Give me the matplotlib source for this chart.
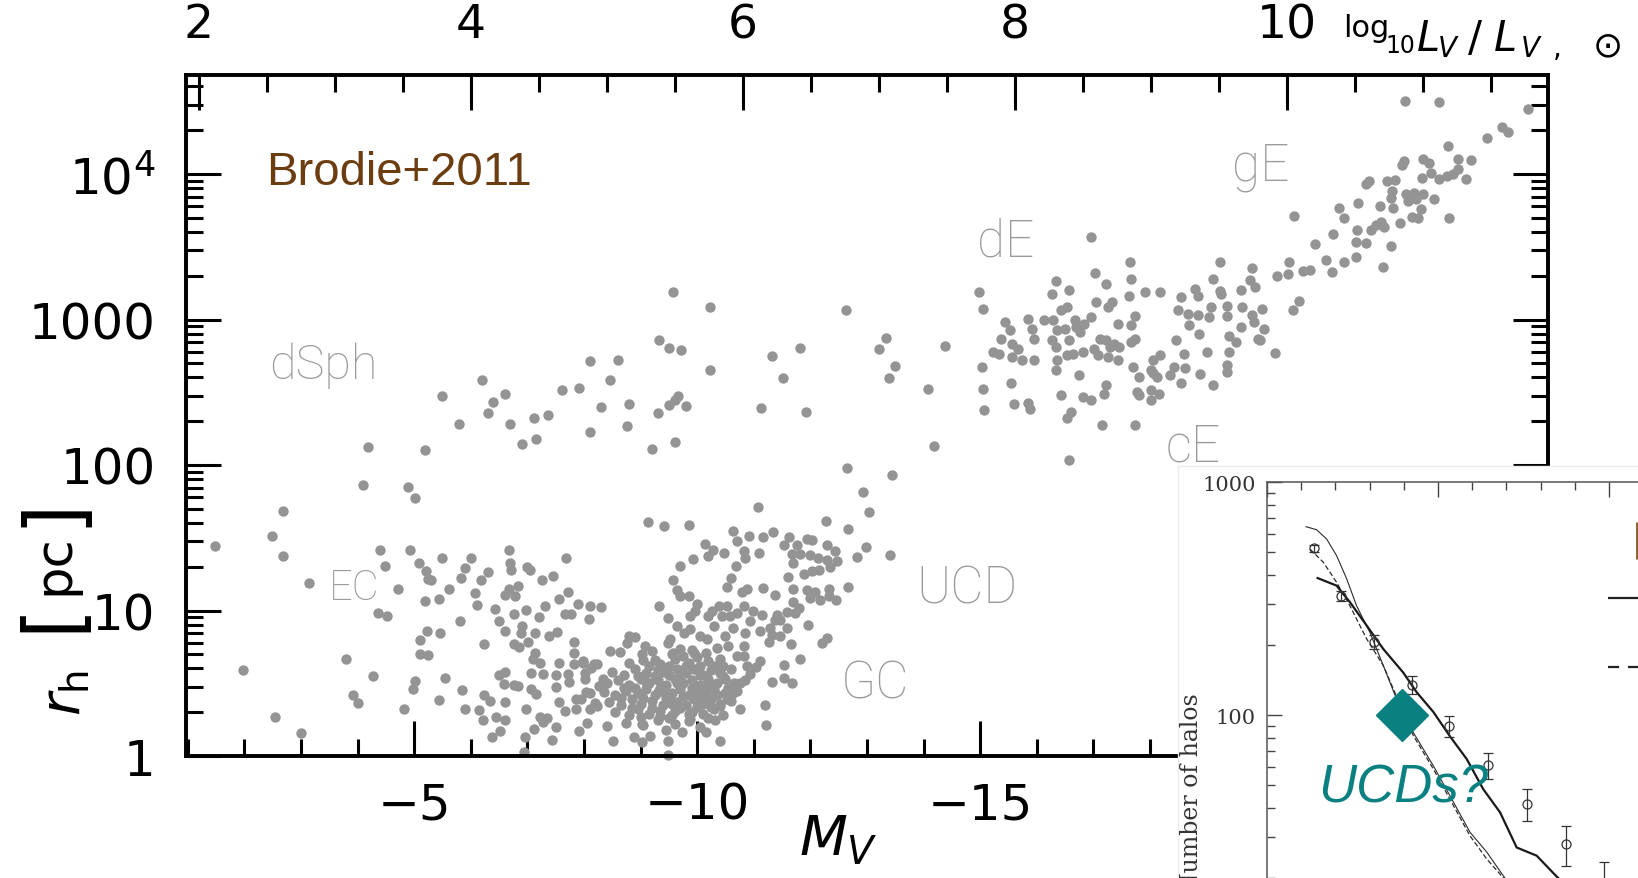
import numpy as np
import matplotlib.pyplot as plt
from matplotlib.ticker import MultipleLocator, LogLocator, FuncFormatter, NullFormatter

W, H = 1638, 879

plt.rcParams['font.family'] = ['DejaVu Sans']
plt.rcParams['mathtext.fontset'] = 'dejavusans'

# ---------- size-luminosity sample: (M_V, log10 r_h / pc) ----------

dsph_pts = [
    (-9.58, 3.187), (-9.33, 2.861), (-9.51, 2.804), (-9.72, 2.792), (-8.11, 2.715),
    (-8.61, 2.724), (-6.20, 2.582), (-8.46, 2.582), (-7.61, 2.518), (-7.91, 2.532),
    (-5.49, 2.475), (-6.60, 2.491), (-6.40, 2.434), (-9.66, 2.472), (-9.60, 2.445),
    (-9.50, 2.413), (-9.81, 2.404), (-8.80, 2.422), (-8.30, 2.399), (-6.30, 2.358),
    (-7.36, 2.347), (-7.11, 2.320), (-5.80, 2.285), (-6.70, 2.281), (-9.31, 2.358),
    (-8.76, 2.269), (-8.11, 2.226), (-7.16, 2.178), (-6.91, 2.141), (-9.21, 2.112),
    (-9.61, 2.155), (-4.19, 2.121), (-5.19, 2.103), (-4.09, 1.861), (-4.90, 1.847),
    (-5.01, 1.772), (-10.22, 3.089), (-12.63, 3.066), (-10.22, 2.655), (-11.33, 2.749),
    (-11.82, 2.806), (-11.52, 2.596), (-13.33, 2.872), (-13.22, 2.794), (-13.49, 2.678),
    (-13.39, 2.600), (-14.07, 2.520), (-11.12, 2.390), (-11.92, 2.365), (-14.18, 2.130),
    (-12.64, 1.977), (-13.45, 1.929), (-12.93, 1.813),
]

giant_pts = [
    (-14.38, 2.817), (-14.98, 3.187), (-15.05, 3.073), (-15.04, 2.673), (-15.05, 2.525),
    (-15.06, 2.377), (-15.43, 2.982), (-15.36, 2.868), (-15.22, 2.776), (-15.33, 2.765),
    (-15.53, 2.925), (-15.57, 2.833), (-15.57, 2.742), (-15.67, 2.799), (-15.74, 2.724),
    (-15.55, 2.566), (-15.60, 2.422), (-15.84, 3.005), (-15.88, 2.388), (-15.84, 2.427),
    (-15.95, 2.724), (-15.91, 2.936), (-15.95, 2.868), (-16.12, 2.998), (-16.29, 2.998),
    (-16.33, 3.267), (-16.26, 3.176), (-16.26, 2.856), (-16.35, 2.925), (-16.33, 2.811),
    (-16.36, 2.719), (-16.33, 2.651), (-16.43, 2.479), (-16.43, 3.062), (-16.53, 3.085),
    (-16.57, 3.203), (-16.50, 2.936), (-16.57, 2.856), (-16.53, 2.753), (-16.64, 2.765),
    (-16.67, 2.998), (-16.70, 2.948), (-16.74, 2.616), (-16.60, 2.365), (-16.53, 2.326),
    (-16.57, 2.034), (-16.95, 3.564), (-17.03, 3.317), (-16.95, 3.016), (-16.84, 2.970),
    (-16.77, 2.913), (-16.81, 2.776), (-16.95, 2.445), (-16.81, 2.468), (-17.05, 3.119),
    (-17.12, 2.868), (-17.01, 2.799), (-17.08, 2.753), (-17.15, 2.274), (-17.22, 3.244),
    (-17.22, 2.548), (-17.19, 2.491), (-17.25, 3.085), (-17.32, 3.119), (-17.22, 2.856),
    (-17.29, 2.811), (-17.25, 2.742), (-17.36, 2.833), (-17.46, 2.811), (-17.43, 2.970),
    (-17.43, 2.719), (-17.65, 3.393), (-17.67, 3.279), (-17.63, 3.164), (-17.74, 3.021),
    (-17.67, 2.959), (-17.74, 2.868), (-17.67, 2.845), (-17.70, 2.674), (-17.81, 2.605),
    (-17.77, 2.502), (-17.81, 2.479), (-17.74, 2.274), (-17.91, 3.187), (-18.01, 2.651),
    (-18.05, 2.719), (-18.05, 2.632), (-18.01, 2.514), (-18.01, 2.450), (-18.12, 2.605),
    (-18.15, 2.491), (-18.18, 3.187), (-18.18, 2.753), (-18.36, 2.616), (-18.43, 2.674),
    (-18.46, 2.856), (-18.49, 3.062), (-18.55, 3.158), (-18.55, 2.564), (-18.60, 2.765),
    (-18.62, 2.669), (-18.69, 2.959), (-18.67, 3.039), (-18.80, 3.210), (-18.84, 3.164),
    (-18.84, 3.028), (-18.87, 2.902), (-18.89, 2.623), (-19.05, 3.016), (-19.08, 3.085),
    (-19.11, 3.279), (-19.01, 2.776), (-19.11, 2.548), (-19.24, 3.393), (-19.24, 3.199),
    (-19.25, 3.176), (-19.36, 3.096), (-19.36, 3.021), (-19.39, 2.890), (-19.39, 2.776),
    (-19.36, 2.685), (-19.36, 2.639), (-19.51, 2.845), (-19.60, 3.203), (-19.63, 3.089),
    (-19.60, 2.948), (-19.80, 3.351), (-19.77, 3.272), (-19.86, 3.226), (-19.80, 3.028),
    (-19.84, 2.982), (-19.98, 3.073), (-20.01, 2.936), (-19.91, 2.868), (-19.94, 2.856),
    (-20.20, 2.770), (-20.25, 3.302), (-20.46, 3.393), (-20.44, 3.313), (-20.53, 3.066),
    (-20.63, 3.126), (-20.55, 3.712), (-20.70, 3.336), (-20.82, 3.340), (-20.91, 3.518),
    (-21.10, 3.411), (-21.21, 3.324), (-21.24, 3.587), (-21.33, 3.763), (-21.42, 3.701),
    (-21.42, 3.393), (-21.63, 3.427), (-21.65, 3.614), (-21.63, 3.530), (-21.68, 3.804),
    (-21.81, 3.523), (-21.81, 3.934), (-21.87, 3.952), (-21.90, 3.614), (-21.99, 3.651),
    (-22.06, 3.781), (-22.08, 3.667), (-22.13, 3.637), (-22.11, 3.358), (-22.18, 3.952),
    (-22.32, 3.957), (-22.27, 3.884), (-22.25, 3.833), (-22.30, 3.765), (-22.25, 3.507),
    (-22.41, 3.660), (-22.45, 4.062), (-22.49, 4.089), (-22.52, 3.861), (-22.56, 3.815),
    (-22.66, 3.872), (-22.70, 3.826), (-22.63, 3.705), (-22.73, 3.701), (-22.78, 3.758),
    (-22.83, 3.861), (-22.80, 3.975), (-22.83, 4.100), (-22.92, 4.078), (-22.97, 4.009),
    (-23.01, 3.826), (-23.10, 3.963), (-23.25, 3.986), (-23.28, 3.701), (-23.27, 4.192),
    (-23.35, 4.002), (-23.44, 4.032), (-23.44, 4.100), (-23.59, 3.963), (-23.67, 4.093),
    (-22.50, 4.500), (-23.10, 4.495), (-23.96, 4.244), (-24.21, 4.322), (-24.33, 4.290),
    (-24.68, 4.445),
]

ec_pts = [
    (-1.49, 1.445), (-1.97, 0.591), (-2.55, 0.271), (-3.00, 0.157), (-2.49, 1.513),
    (-2.69, 1.687), (-2.69, 1.376), (-3.14, 1.189), (-4.40, 1.413), (-4.49, 1.303),
    (-4.93, 1.413), (-4.72, 1.148), (-4.37, 0.984), (-4.52, 0.961), (-3.79, 0.664),
    (-4.28, 0.550), (-3.92, 0.420), (-4.00, 0.367), (-5.09, 1.326), (-5.21, 1.269),
    (-5.24, 1.217), (-5.30, 1.212), (-5.20, 1.064), (-5.44, 1.080), (-5.50, 1.360),
    (-5.61, 1.148), (-5.22, 0.858), (-5.10, 0.797), (-5.46, 0.842), (-5.10, 0.703),
    (-5.24, 0.692), (-5.02, 0.516), (-4.98, 0.459), (-5.54, 0.536), (-5.44, 0.386),
    (-4.82, 0.326), (-5.81, 0.927), (-5.83, 1.223), (-5.89, 1.292), (-6.01, 1.360),
    (-6.07, 1.121), (-6.11, 1.041), (-6.19, 1.207), (-6.30, 1.262), (-6.24, 0.771),
    (-5.84, 0.454), (-5.89, 0.326), (-6.14, 0.317), (-6.21, 0.249), (-6.23, 0.418),
    (-6.34, 0.379), (-6.38, 0.134), (-6.44, 0.271), (-6.51, 0.173), (-6.50, 0.555),
    (-6.60, 0.577), (-6.58, 0.493), (-6.61, 0.372), (-6.61, 0.249), (-6.42, 1.013),
    (-6.50, 0.927), (-6.60, 1.109), (-6.61, 0.858), (-6.67, 1.148), (-6.68, 1.413),
    (-6.70, 1.326), (-6.71, 1.281), (-6.79, 1.102), (-6.83, 1.166), (-6.77, 0.979),
    (-6.77, 0.767), (-6.86, 0.749), (-6.76, 0.486), (-6.83, 0.482), (-6.97, 1.002),
    (-6.99, 1.299), (-7.04, 1.281), (-6.91, 0.892), (-6.89, 0.847), (-7.01, 0.783),
    (-7.14, 0.842), (-7.20, 0.956), (-7.25, 1.212), (-7.32, 1.034), (-6.97, 0.326),
    (-6.95, 0.134), (-7.11, 0.189), (-7.14, 0.710), (-7.10, 0.664), (-7.23, 0.641),
    (-7.07, 0.573), (-7.27, 0.561), (-7.07, 0.459), (-7.16, 0.425), (-7.23, 0.271),
    (-7.34, 0.258), (-7.27, 0.235), (-7.44, 0.112), (-7.50, 0.196), (-7.38, 0.828),
    (-7.46, 1.239), (-7.52, 0.851), (-7.56, 1.080), (-7.69, 1.360), (-7.72, 1.125),
    (-7.67, 0.979), (-7.77, 0.979), (-7.51, 0.555), (-7.50, 0.477), (-7.56, 0.637),
    (-7.56, 0.372), (-7.66, 0.310), (-7.73, 0.509), (-7.72, 0.561), (-7.83, 0.783),
    (-7.83, 0.705), (-7.83, 0.630), (-7.89, 1.048), (-7.91, 0.173), (-7.98, 0.641),
    (-8.01, 0.573), (-8.10, 1.034), (-8.09, 0.943), (-8.13, 0.607), (-8.23, 0.630),
    (-7.86, 0.390), (-7.95, 0.390), (-7.86, 0.326), (-8.04, 0.440), (-8.10, 0.322),
    (-8.19, 0.367), (-8.30, 1.025), (-8.27, 0.482), (-8.33, 0.527), (-6.94, 0.027),
]

gc_pts = [
    (-9.14, 1.607), (-9.41, 1.582), (-9.85, 1.589), (-11.07, 1.714), (-13.03, 1.676),
    (-12.27, 1.612), (-12.67, 1.561), (-12.99, 1.434), (-12.82, 1.365), (-12.67, 1.162),
    (-10.64, 1.548), (-10.70, 1.479), (-10.92, 1.509), (-11.16, 1.504), (-11.34, 1.539),
    (-10.14, 1.459), (-10.28, 1.413), (-10.20, 1.372), (-10.47, 1.395), (-9.92, 1.356),
    (-9.70, 1.308), (-9.57, 1.212), (-9.64, 1.144), (-9.69, 1.098), (-9.85, 1.102),
    (-9.32, 1.034), (-9.48, 0.950), (-10.82, 1.406), (-10.85, 1.360), (-11.10, 1.395),
    (-10.69, 1.308), (-10.60, 1.224), (-10.52, 1.162), (-10.79, 1.125), (-10.88, 1.148),
    (-11.17, 1.155), (-11.38, 1.109), (-11.61, 1.230), (-11.54, 1.452), (-11.63, 1.504),
    (-11.76, 1.452), (-11.94, 1.491), (-12.03, 1.486), (-12.30, 1.452), (-12.44, 1.406),
    (-11.67, 1.390), (-11.69, 1.326), (-11.82, 1.390), (-12.00, 1.383), (-12.13, 1.360),
    (-12.29, 1.344), (-12.47, 1.338), (-11.89, 1.253), (-12.03, 1.269), (-12.16, 1.276),
    (-12.34, 1.299), (-11.70, 1.148), (-11.94, 1.144), (-12.08, 1.125), (-12.00, 1.087),
    (-12.17, 1.071), (-12.32, 1.148), (-12.46, 1.075), (-12.32, 1.102), (-11.70, 1.057),
    (-11.79, 1.018), (-11.58, 0.988), (-11.73, 0.984), (-11.96, 0.897), (-11.47, 0.938),
    (-11.58, 0.881), (-12.29, 0.813), (-12.20, 0.774), (-11.82, 0.669), (-11.54, 0.623),
    (-11.66, 0.767), (-11.46, 0.824), (-11.29, 0.881), (-11.32, 0.835), (-11.32, 0.509),
    (-11.54, 0.538), (-11.68, 0.504), (-11.20, 0.349), (-11.22, 0.212), (-10.76, 0.322),
    (-10.94, 0.561), (-11.11, 0.653), (-11.04, 0.614), (-11.14, 0.972), (-11.41, 0.972),
    (-11.11, 0.858), (-11.26, 0.783), (-11.38, 0.938), (-10.82, 1.029), (-10.70, 0.984),
    (-10.99, 0.995), (-10.94, 0.927), (-10.52, 1.029), (-10.38, 1.029), (-10.26, 0.995),
    (-10.20, 0.961), (-10.44, 0.961), (-10.58, 0.961), (-10.29, 0.892), (-10.64, 0.881),
    (-10.85, 0.847), (-9.99, 1.048), (-9.97, 0.995), (-9.88, 0.961), (-9.64, 0.892),
    (-9.76, 0.847), (-9.88, 0.870), (-9.52, 0.801), (-10.05, 0.824), (-10.17, 0.806),
    (-10.49, 0.824), (-10.55, 0.755), (-10.82, 0.755), (-10.70, 0.687), (-10.82, 0.687),
    (-10.88, 0.619), (-8.79, 0.824), (-8.90, 0.819), (-8.76, 0.778), (-8.46, 0.721),
    (-8.64, 0.717), (-9.02, 0.699), (-9.08, 0.755), (-9.49, 0.778), (-9.58, 0.710),
    (-9.70, 0.733), (-9.94, 0.710), (-8.52, 0.105), (-8.88, 0.128), (-9.17, 0.139),
    (-9.02, 0.093), (-9.49, 0.105), (-9.48, 0.007), (-9.73, 0.166), (-10.16, 0.166),
    (-10.41, 0.105), (-10.32, 0.249), (-9.88, 0.253), (-9.35, 0.276), (-9.02, 0.219),
    (-8.40, 0.208), (-8.05, 0.230), (-8.23, 0.345), (-8.11, 0.436), (-8.02, 0.527),
    (-8.17, 0.630), (-7.99, 0.653), (-10.76, 0.504), (-10.64, 0.436), (-10.52, 0.390),
    (-10.41, 0.345), (-13.40, 1.383),
]

gc_core_pts = [
    (-8.75, 0.23), (-9.05, 0.21), (-9.30, 0.25), (-9.60, 0.22), (-9.85, 0.24),
    (-10.05, 0.20), (-10.20, 0.26), (-9.45, 0.18), (-8.55, 0.30), (-8.80, 0.28),
    (-8.95, 0.32), (-9.15, 0.29), (-9.35, 0.31), (-9.55, 0.28), (-9.70, 0.33),
    (-9.90, 0.30), (-10.10, 0.29), (-10.30, 0.32), (-10.45, 0.28), (-8.45, 0.37),
    (-8.65, 0.35), (-8.85, 0.39), (-9.00, 0.36), (-9.20, 0.38), (-9.40, 0.35),
    (-9.50, 0.39), (-9.65, 0.37), (-9.80, 0.35), (-9.95, 0.39), (-10.10, 0.36),
    (-10.25, 0.39), (-10.40, 0.36), (-10.60, 0.38), (-8.35, 0.44), (-8.55, 0.42),
    (-8.75, 0.45), (-8.95, 0.43), (-9.10, 0.46), (-9.25, 0.42), (-9.40, 0.45),
    (-9.55, 0.43), (-9.70, 0.46), (-9.85, 0.42), (-10.00, 0.45), (-10.15, 0.43),
    (-10.30, 0.46), (-10.50, 0.43), (-10.70, 0.45), (-8.40, 0.50), (-8.60, 0.52),
    (-8.80, 0.49), (-9.00, 0.53), (-9.15, 0.50), (-9.30, 0.52), (-9.45, 0.49),
    (-9.60, 0.53), (-9.75, 0.50), (-9.90, 0.52), (-10.05, 0.49), (-10.20, 0.53),
    (-10.35, 0.50), (-10.50, 0.53), (-10.65, 0.50), (-10.85, 0.52), (-8.50, 0.58),
    (-8.70, 0.56), (-8.90, 0.60), (-9.10, 0.57), (-9.30, 0.59), (-9.50, 0.56),
    (-9.65, 0.60), (-9.80, 0.57), (-9.95, 0.60), (-10.10, 0.56), (-10.25, 0.59),
    (-10.40, 0.57), (-10.60, 0.60), (-8.80, 0.64), (-9.05, 0.66), (-9.35, 0.63),
    (-9.60, 0.67), (-9.85, 0.64), (-10.00, 0.68), (-10.20, 0.65), (-10.40, 0.67),
    (-9.20, 0.72), (-9.55, 0.70), (-9.90, 0.73), (-10.15, 0.71), (-10.35, 0.74),
    (-8.65, 0.40), (-8.90, 0.47), (-9.05, 0.40), (-9.20, 0.33), (-9.25, 0.55),
    (-9.35, 0.47), (-9.45, 0.40), (-9.50, 0.62), (-9.60, 0.31), (-9.65, 0.50),
    (-9.75, 0.41), (-9.80, 0.62), (-9.90, 0.47), (-10.00, 0.34), (-10.05, 0.56),
    (-10.15, 0.47), (-10.25, 0.34), (-10.30, 0.62), (-10.35, 0.42), (-10.45, 0.55),
    (-9.15, 0.62), (-8.95, 0.55), (-8.70, 0.47), (-9.00, 0.27), (-9.30, 0.44),
    (-9.55, 0.36), (-9.70, 0.56), (-9.95, 0.43), (-10.20, 0.50), (-10.10, 0.40),
    (-9.40, 0.58), (-9.85, 0.29), (-9.10, 0.51), (-8.85, 0.33), (-10.55, 0.47),
    (-10.45, 0.62), (-9.25, 0.66), (-9.75, 0.69), (-10.05, 0.62), (-9.50, 0.26),
]

# class names: text, M_V at left edge, r_h [pc] at baseline, font size
class_labels = [
    ("dSph", -2.44, 394, 35),
    ("EC", -3.49, 12.0, 30),
    ("dE", -14.95, 2742, 37),
    ("gE", -19.45, 9204, 37),
    ("cE", -18.27, 108, 37),
    ("UCD", -13.88, 11.3, 37),
    ("GC", -12.54, 2.52, 37),
]

# ---------- inset: cumulative number of halos ----------

halo_v = [12.77, 14.33, 16.28, 18.46, 20.66, 22.9, 25.2, 27.5, 29.7]
halo_n = [519, 323, 206, 135, 90, 61, 41.5, 27.9, 18]
halo_err = [20, 16, 14, 12, 9.5, 8, 6.5, 5.5, 5.5]

thick_v = [12.96, 14.07, 14.85, 15.83, 16.8, 17.97, 18.76, 19.73, 20.7, 21.68,
           22.65, 23.63, 24.6, 25.77, 26.9, 28.0]
thick_n = [387, 359, 305, 242, 192, 152, 125, 103, 81, 64.7,
           48, 38.2, 27, 24.9, 20.4, 17.0]

thin_v = [12.28, 12.9, 13.49, 14.07, 14.66, 15.24, 16.02, 16.8, 17.58, 18.56,
          19.73, 20.7, 21.87, 22.85, 23.82, 24.8]
thin_n = [643, 624, 569, 483, 384, 294, 226, 163, 117, 84,
          60.5, 45, 31.4, 25.8, 20.4, 16.5]

dash_v = [12.52, 13.3, 14.07, 14.85, 15.83, 16.8, 18.56, 19.73, 20.7, 21.87,
          22.85, 23.82, 24.8]
dash_n = [515, 452, 371, 294, 212, 163, 81.5, 58.6, 43.5, 30.3,
          24.1, 20.0, 16.3]

ucd_v, ucd_n = 17.9, 100
legend_key_n = [318, 161]

dot_color = '#949494'
label_color = '#9a9a9a'
teal = '#0b8080'


def fig_xy(x, y):
    """Pixel position (from top-left) to figure fraction."""
    return x / W, 1 - y / H


fig = plt.figure(figsize=(W / 100, H / 100), dpi=100)

# ---------- main r_h - M_V panel ----------
ax = fig.add_axes([186 / W, 1 - 757 / H, 1362 / W, 681 / H])
pts = np.array(dsph_pts + giant_pts + ec_pts + gc_pts + gc_core_pts)
ax.scatter(pts[:, 0], 10 ** pts[:, 1], s=56, color=dot_color, linewidths=0,
           clip_on=False, zorder=2)

ax.set_xlim(-0.97, -25.03)
ax.set_yscale('log')
ax.set_ylim(1, 10 ** (681 / 145.5))

ax.xaxis.set_major_locator(MultipleLocator(5))
ax.xaxis.set_minor_locator(MultipleLocator(1))
ax.xaxis.set_major_formatter(FuncFormatter(lambda v, p: f'{v:.0f}'.replace('-', '\u2212')))
ax.yaxis.set_major_locator(LogLocator(base=10))
ax.yaxis.set_minor_locator(LogLocator(base=10, subs=np.arange(2, 10)))
ax.yaxis.set_minor_formatter(NullFormatter())
ax.yaxis.set_major_formatter(FuncFormatter(lambda v, p: r'$10^4$' if v >= 1e4 else f'{v:.0f}'))

ax.tick_params(which='both', direction='in', right=True, width=2.2, labelsize=36)
ax.tick_params(which='major', length=25)
ax.tick_params(which='minor', length=12)
ax.tick_params(axis='y', pad=22)
ax.tick_params(axis='x', pad=18)
for sp in ax.spines.values():
    sp.set_linewidth(2.6)

for text, mv, rh, size in class_labels:
    ax.text(mv, rh, text, fontsize=size, color=label_color, family='Roboto',
            fontweight='light', va='baseline', ha='left')

# top axis in log luminosity
ax_top = ax.twiny()
ax_top.set_xlim(1.904, 11.92)
ax_top.xaxis.set_major_locator(MultipleLocator(2))
ax_top.xaxis.set_minor_locator(MultipleLocator(0.5))
ax_top.xaxis.set_major_formatter(FuncFormatter(lambda v, p: f'{v:.0f}'))
ax_top.tick_params(which='both', direction='in', width=2.2, labelsize=34, pad=20)
ax_top.tick_params(which='major', length=25)
ax_top.tick_params(which='minor', length=12)
for sp in ax_top.spines.values():
    sp.set_linewidth(2.6)

# axis title log10 L_V / L_V,sun, set piece by piece
fig.text(*fig_xy(1343, 37), 'log', fontsize=22, va='baseline')
fig.text(*fig_xy(1385, 53), '10', fontsize=17, va='baseline')
fig.text(*fig_xy(1417, 51), 'L', fontsize=30, style='italic', va='baseline')
fig.text(*fig_xy(1438, 57), 'V', fontsize=20, style='italic', va='baseline')
fig.text(*fig_xy(1468, 51), '/', fontsize=30, va='baseline')
fig.text(*fig_xy(1494, 51), 'L', fontsize=30, style='italic', va='baseline')
fig.text(*fig_xy(1521, 57), 'V', fontsize=20, style='italic', va='baseline')
fig.text(*fig_xy(1553, 57), ',', fontsize=20, va='baseline')
fig.text(*fig_xy(1608, 46), '\u2299', fontsize=26, ha='center', va='center')

fig.text(*fig_xy(838, 855), r'$M_V$', fontsize=40, ha='center', va='baseline')

# y label: r_h [pc] with tall brackets
fig.text(*fig_xy(65, 693), r'$r_{\rm h}$', fontsize=40, rotation=90, ha='center', va='center')
fig.text(*fig_xy(51, 617), '[', fontsize=56, rotation=90, ha='center', va='center')
fig.text(*fig_xy(54, 565), 'pc', fontsize=37, rotation=90, ha='center', va='center')
fig.text(*fig_xy(51, 512), ']', fontsize=56, rotation=90, ha='center', va='center')

fig.text(*fig_xy(266, 185), 'Brodie+2011', fontsize=34, color='#6b3d10',
         family='Liberation Sans', va='baseline')

# ---------- inset panel ----------
cover = fig.add_axes([1178 / W, 0, 1 - 1178 / W + 0.01, 1 - 467 / H], zorder=5)
cover.set_facecolor('white')
cover.set_xticks([])
cover.set_yticks([])
for k in ('right', 'bottom'):
    cover.spines[k].set_visible(False)
for k in ('left', 'top'):
    cover.spines[k].set_color('#ebebeb')
    cover.spines[k].set_linewidth(1)

ax_in = fig.add_axes([1267 / W, 1 - 1182 / H, 513 / W, 699 / H], zorder=6)
ax_in.patch.set_alpha(0)
ax_in.set_xlim(10, 40)
ax_in.set_yscale('log')
ax_in.set_ylim(1, 1000)
ax_in.xaxis.set_major_locator(MultipleLocator(10))
ax_in.xaxis.set_minor_locator(MultipleLocator(2))
ax_in.yaxis.set_major_formatter(FuncFormatter(lambda v, p: f'{v:.0f}'))
ax_in.yaxis.set_minor_formatter(NullFormatter())
ax_in.tick_params(which='both', direction='in', top=True, right=True,
                  labelbottom=False, width=1, color='#444',
                  labelsize=15, labelcolor='#333', labelfontfamily='DejaVu Serif', pad=8)
ax_in.tick_params(which='major', length=11)
ax_in.tick_params(which='minor', length=6)
for sp in ax_in.spines.values():
    sp.set_color('#555')
    sp.set_linewidth(1.1)

ax_in.plot(thin_v, thin_n, color='#2b2b2b', lw=0.8)
ax_in.plot(dash_v, dash_n, color='#2b2b2b', lw=0.9, ls=(0, (4, 2)))
ax_in.plot(thick_v, thick_n, color='#1a1a1a', lw=1.6)
ax_in.errorbar(halo_v, halo_n, yerr=halo_err, fmt='o', ms=6.5, mfc='none', mec='#333',
               mew=0.9, ecolor='#333', elinewidth=0.9, capsize=3.5)
ax_in.hlines(legend_key_n[0], 29.94, 40, color='#222', lw=1.6)
ax_in.hlines(legend_key_n[1], 29.94, 40, color='#222', lw=1.6, linestyles=(0, (5, 4)))
ax_in.vlines(31.64, 468, 673, color='#8a5a2a', lw=2)
ax_in.plot([ucd_v], [ucd_n], marker='D', ms=26, color=teal, zorder=5)

fig.text(*fig_xy(1191, 693), 'Number of halos', rotation=90, ha='center', va='top',
         family='DejaVu Serif', fontsize=17, color='#333', zorder=10)
fig.text(*fig_xy(1318, 803), 'UCDs?', fontsize=38, style='italic', family='Liberation Sans',
         color=teal, va='baseline', zorder=10)

fig.savefig('out.png', dpi=100)
